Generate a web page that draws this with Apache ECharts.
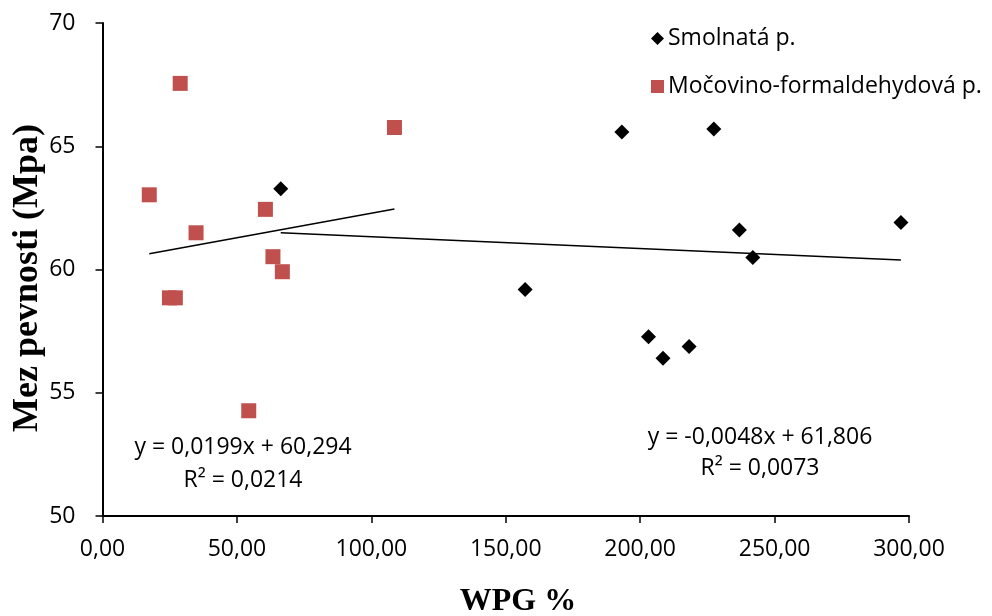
<!DOCTYPE html>
<html>
<head>
<meta charset="utf-8">
<script src="https://cdn.jsdelivr.net/npm/echarts@6/dist/echarts.min.js"></script>
<style>
  html, body { margin: 0; padding: 0; background: #fff; }
  #chart { width: 992px; height: 616px; }
</style>
</head>
<body>
<div id="chart"></div>
<script>
// Smolnatá pryskyřice (resin) samples: WPG % and strength limit (MPa)
const resinWpg = [66.3, 157.2, 193.2, 203.1, 208.5, 218.2, 227.4, 236.9, 241.9, 297.0];
const resinStrength = [63.28, 59.19, 65.58, 57.27, 56.40, 56.88, 65.70, 61.60, 60.49, 61.91];

// Močovino-formaldehydová pryskyřice samples
const ufWpg = [17.4, 24.9, 27.1, 28.9, 34.8, 54.4, 60.6, 63.4, 66.9, 108.6];
const ufStrength = [63.03, 58.85, 58.85, 67.55, 61.49, 54.27, 62.44, 60.52, 59.91, 65.76];

// Linear trend coefficients as printed on the chart
const resinTrend = { slope: -0.0048, intercept: 61.806, r2: '0,0073' };
const ufTrend = { slope: 0.0199, intercept: 60.294, r2: '0,0214' };

const seriesNames = ['Smolnatá p.', 'Močovino-formaldehydová p.'];
const xTicks = [0, 50, 100, 150, 200, 250, 300];
const yTicks = [50, 55, 60, 65, 70];
const xTitle = 'WPG %';
const yTitle = 'Mez pevnosti (Mpa)';

const fmtNum = (v, d) => v.toFixed(d).replace('.', ',');
const pairs = (xs, ys) => xs.map((x, i) => [x, ys[i]]);
function trendLine(xs, t) {
  const lo = Math.min(...xs), hi = Math.max(...xs);
  return [[lo, t.slope * lo + t.intercept], [hi, t.slope * hi + t.intercept]];
}
function eqLine(t) {
  const s = t.slope < 0 ? '-' + fmtNum(-t.slope, 4) : fmtNum(t.slope, 4);
  return 'y = ' + s + 'x + ' + fmtNum(t.intercept, 3);
}

const FONT = '"Open Sans", Lato, sans-serif';
const SERIF = '"Liberation Serif", "DejaVu Serif", serif';
const chart = echarts.init(document.getElementById('chart'));

// centred text helper for the equation labels and titles
const label = (x, y, text, font, extra) => Object.assign({
  type: 'text', x: x, y: y, silent: true,
  style: { text: text, font: font, fill: '#000', align: 'center', verticalAlign: 'middle' }
}, extra || {});

chart.setOption({
  animation: false,
  backgroundColor: '#ffffff',
  grid: { left: 102.5, right: 83, top: 23, bottom: 100, containLabel: false },
  xAxis: {
    type: 'value',
    min: xTicks[0], max: xTicks[xTicks.length - 1], interval: 50,
    axisLine: { lineStyle: { color: '#000', width: 2 } },
    axisTick: { show: true, inside: false, length: 7, lineStyle: { color: '#000', width: 1.5 } },
    axisLabel: { formatter: v => fmtNum(v, 2), fontFamily: FONT, fontSize: 23, color: '#000', margin: 22 },
    splitLine: { show: false }
  },
  yAxis: {
    type: 'value',
    min: yTicks[0], max: yTicks[yTicks.length - 1], interval: 5,
    axisLine: { show: true, lineStyle: { color: '#000', width: 2 } },
    axisTick: { show: true, inside: false, length: 7, lineStyle: { color: '#000', width: 1.5 } },
    axisLabel: { fontFamily: FONT, fontSize: 23, color: '#000', margin: 27 },
    splitLine: { show: false }
  },
  legend: {
    data: [
      { name: seriesNames[0], icon: 'diamond' },
      { name: seriesNames[1], icon: 'rect' }
    ],
    orient: 'vertical', left: 646, top: 22,
    itemWidth: 13, itemHeight: 13, itemGap: 25,
    textStyle: { fontFamily: FONT, fontSize: 23, color: '#000', padding: [0, 0, 0, -1] }
  },
  graphic: [
    label(243, 447, eqLine(ufTrend), '23px ' + FONT),
    label(243, 480, 'R² = ' + ufTrend.r2, '23px ' + FONT),
    label(760, 437, eqLine(resinTrend), '23px ' + FONT),
    label(760, 468, 'R² = ' + resinTrend.r2, '23px ' + FONT),
    label(518, 602, xTitle, 'bold 32px ' + SERIF),
    label(28, 278, yTitle, 'bold 36px ' + SERIF, { rotation: Math.PI / 2 })
  ],
  series: [
    {
      name: seriesNames[0], type: 'scatter', symbol: 'diamond', symbolSize: 15,
      itemStyle: { color: '#000', opacity: 1 }, data: pairs(resinWpg, resinStrength), z: 3
    },
    {
      name: seriesNames[1], type: 'scatter', symbol: 'rect', symbolSize: 15,
      itemStyle: { color: '#C0504D', opacity: 1 }, data: pairs(ufWpg, ufStrength), z: 3
    },
    {
      name: 'trend-resin', type: 'line', showSymbol: false, symbol: 'none', silent: true,
      lineStyle: { color: '#000', width: 1.5 }, data: trendLine(resinWpg, resinTrend), z: 2
    },
    {
      name: 'trend-uf', type: 'line', showSymbol: false, symbol: 'none', silent: true,
      lineStyle: { color: '#000', width: 1.5 }, data: trendLine(ufWpg, ufTrend), z: 2
    }
  ]
});
</script>
</body>
</html>
